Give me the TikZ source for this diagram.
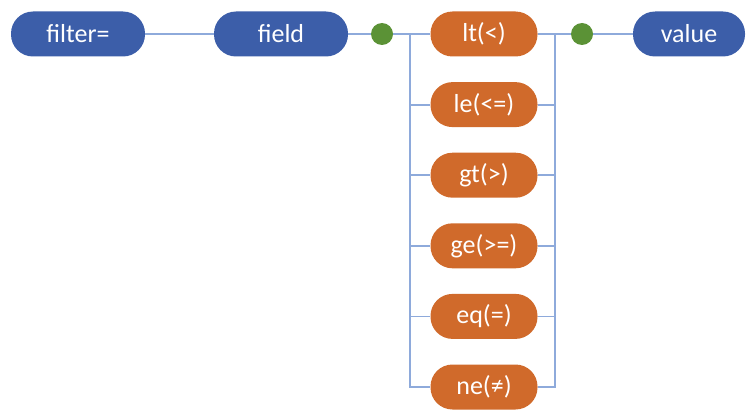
\documentclass[tikz,border=0pt]{standalone}
\usepackage{fontspec}
\setmainfont{Carlito}
\usetikzlibrary{positioning}
\definecolor{pillblue}{HTML}{3C5EA9}
\definecolor{pillorange}{HTML}{D06A2B}
\definecolor{dotgreen}{HTML}{5B9236}
\definecolor{linkblue}{HTML}{8EAADB}
\tikzset{
  rr pill/.style={rectangle,rounded corners=22pt,minimum height=45pt,
    text=white,font=\fontsize{26}{28}\selectfont,inner sep=0pt},
  rr blue/.style={rr pill,fill=pillblue,minimum width=134pt},
  rr op/.style={rr pill,fill=pillorange,minimum width=107pt},
  rr dot/.style={circle,fill=dotgreen,minimum size=22pt,inner sep=0pt},
  rr link/.style={linkblue,line width=1.8pt}
}
\begin{document}
\begin{tikzpicture}[x=1pt,y=-1pt]
  \useasboundingbox (0,0) rectangle (754,412);
  \node[rr blue] (filter) at (78,34) {filter=};
  \node[rr blue] (field) at (281,34) {field};
  \node[rr dot] (dotin) at (382,34) {};
  \node[rr dot] (dotout) at (582,34) {};
  \node[rr blue,minimum width=112pt] (value) at (689,34) {value};
  \coordinate (busL) at (410,34);
  \coordinate (busR) at (555,34);
  \foreach \k/\op in {0/lt(<),1/le(<=),2/gt(>),3/ge(>=),4/eq(=),5/ne(≠)}{
    \node[rr op] (op\k) at (484,34+70.6*\k) {\op};
  }
  \draw[rr link] (filter) -- (field);
  \draw[rr link] (field) -- (dotin);
  \draw[rr link] (dotin) -- (op0);
  \draw[rr link] (op0) -- (dotout);
  \draw[rr link] (dotout) -- (value);
  \foreach \k in {1,...,5}{
    \draw[rr link] (busL) |- (op\k);
    \draw[rr link] (op\k) -| (busR);
  }
\end{tikzpicture}
\end{document}
